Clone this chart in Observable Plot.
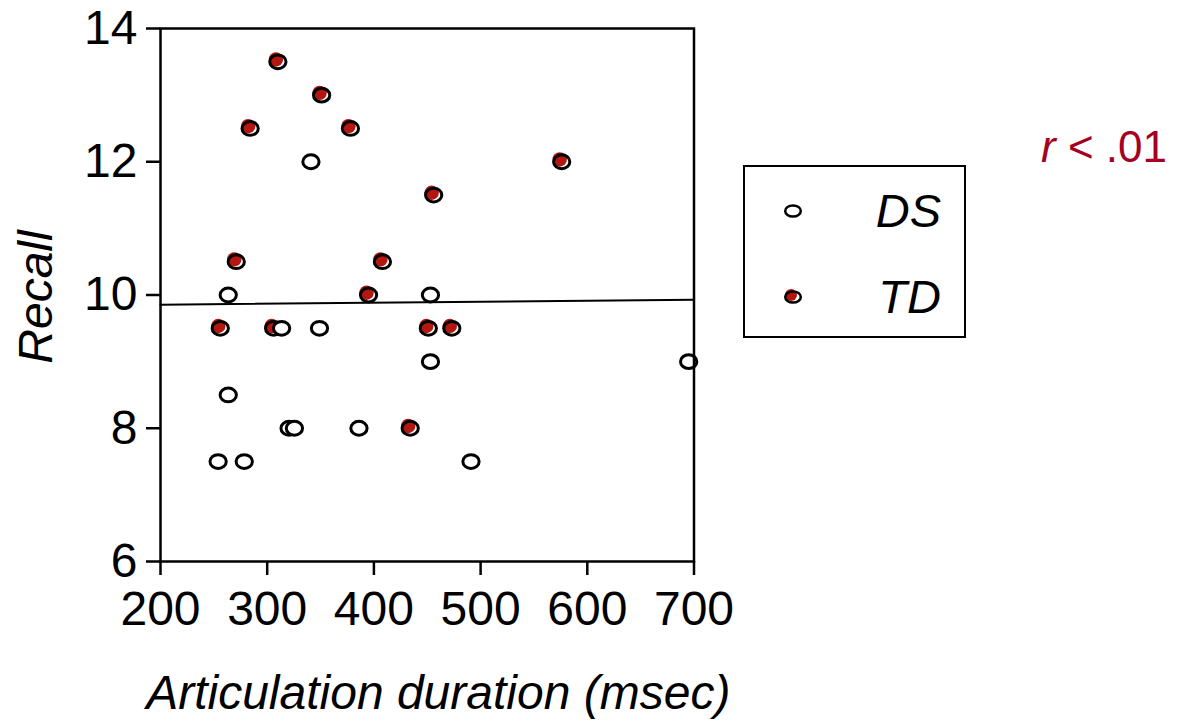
<!DOCTYPE html>
<html>
<head>
<meta charset="utf-8">
<script src="https://cdn.jsdelivr.net/npm/d3@7"></script>
<script src="https://cdn.jsdelivr.net/npm/@observablehq/plot@0.6"></script>
<style>
  html, body { margin: 0; padding: 0; background: white; }
  #wrap { position: relative; width: 1179px; height: 721px; font-family: "Liberation Sans", Arial, Helvetica, sans-serif; }
  #legend { position: absolute; left: 743px; top: 165px; width: 219px; height: 169px; border: 2.5px solid black; background: white; }
  #legend .row { position: absolute; left: 0; width: 219px; height: 60px; }
  #legend svg { position: absolute; left: 30px; top: 15px; }
  #legend .lab { position: absolute; right: 23px; top: 0; font-size: 47px; font-style: italic; line-height: 60px; }
  #rtext { position: absolute; left: 1041px; top: 122px; font-size: 44px; color: #a50021; line-height: 50px; white-space: nowrap; }
</style>
</head>
<body>
<div id="wrap">
  <div id="chart"></div>
  <div id="legend">
    <div class="row" style="top:14px">
      <svg width="36" height="30" viewBox="-18 -15 36 30"><ellipse cx="0" cy="0" rx="7.8" ry="5.6" fill="white" stroke="black" stroke-width="2.5"/></svg>
      <div class="lab">DS</div>
    </div>
    <div class="row" style="top:100px">
      <svg width="36" height="30" viewBox="-18 -15 36 30"><circle cx="-2" cy="-2" r="6" fill="#b3170f"/><ellipse cx="0" cy="0" rx="7.8" ry="5.6" fill="none" stroke="black" stroke-width="2.5"/></svg>
      <div class="lab">TD</div>
    </div>
  </div>
  <div id="rtext"><i>r</i> &lt; .01</div>
</div>
<script>
// Data
const groups = ["DS", "TD"];
const dsDuration = [341, 453, 453, 695, 263.5, 313.5, 349, 263.5, 320.5, 325.5, 386, 254, 278.5, 491];
const dsRecall   = [12, 10, 9, 9, 10, 9.5, 9.5, 8.5, 8, 8, 8, 7.5, 7.5, 7.5];
const tdDuration = [310, 351, 284, 378, 456, 576, 271, 408, 395, 256, 306, 451, 473, 434];
const tdRecall   = [13.5, 13, 12.5, 12.5, 11.5, 12, 10.5, 10.5, 10, 9.5, 9.5, 9.5, 9.5, 8];
const fitDuration = [200, 700];
const fitRecall   = [9.855, 9.93];
const xTicks = [200, 300, 400, 500, 600, 700];
const yTicks = [6, 8, 10, 12, 14];
const xLabel = "Articulation duration (msec)";
const yLabel = "Recall";

const ds = dsDuration.map((d, i) => ({group: groups[0], x: d, y: dsRecall[i]}));
const td = tdDuration.map((d, i) => ({group: groups[1], x: d, y: tdRecall[i]}));
const fit = fitDuration.map((d, i) => ({x: d, y: fitRecall[i]}));

const ellipse = {
  draw(ctx, size) {
    const r = Math.sqrt(size / Math.PI);
    const rx = r * 1.1, ry = r * 0.93, c = 0.5523;
    ctx.moveTo(rx, 0);
    ctx.bezierCurveTo(rx, ry * c, rx * c, ry, 0, ry);
    ctx.bezierCurveTo(-rx * c, ry, -rx, ry * c, -rx, 0);
    ctx.bezierCurveTo(-rx, -ry * c, -rx * c, -ry, 0, -ry);
    ctx.bezierCurveTo(rx * c, -ry, rx, -ry * c, rx, 0);
    ctx.closePath();
  }
};

const chart = Plot.plot({
  width: 1179,
  height: 721,
  marginLeft: 160,
  marginRight: 485.5,
  marginTop: 28,
  marginBottom: 160,
  style: {fontFamily: '"Liberation Sans", Arial, Helvetica, sans-serif', background: "white", overflow: "visible", color: "black"},
  x: {domain: [200, 700]},
  y: {domain: [6, 14]},
  marks: [
    Plot.axisX({ticks: xTicks, tickSize: 14, tickPadding: 15, fontSize: 48, strokeWidth: 2.5, label: null, tickFormat: d => String(d)}),
    Plot.axisY({ticks: yTicks, tickSize: 14, tickPadding: 9, fontSize: 48, strokeWidth: 2.5, label: null, tickFormat: d => String(d)}),
    Plot.text([xLabel], {frameAnchor: "bottom", text: d => d, dx: 11, dy: 147, lineAnchor: "bottom", textAnchor: "middle", fontSize: 48, fontStyle: "italic", fill: "black"}),
    Plot.text([yLabel], {frameAnchor: "left", text: d => d, dx: -124, dy: 2, rotate: -90, textAnchor: "middle", lineAnchor: "middle", fontSize: 48, fontStyle: "italic", fill: "black"}),
    Plot.line(fit, {x: "x", y: "y", stroke: "black", strokeWidth: 2}),
    Plot.dot(td, {x: "x", y: "y", r: 7.2, dx: -2, dy: -2.3, fill: "#b3170f", stroke: "none"}),
    Plot.dot(td, {x: "x", y: "y", r: 7.4, symbol: ellipse, fill: "none", stroke: "black", strokeWidth: 3}),
    Plot.dot(ds, {x: "x", y: "y", r: 7.4, symbol: ellipse, fill: "white", stroke: "black", strokeWidth: 3}),
    Plot.frame({stroke: "black", strokeWidth: 2.5})
  ]
});
document.getElementById("chart").appendChild(chart);
</script>
</body>
</html>
